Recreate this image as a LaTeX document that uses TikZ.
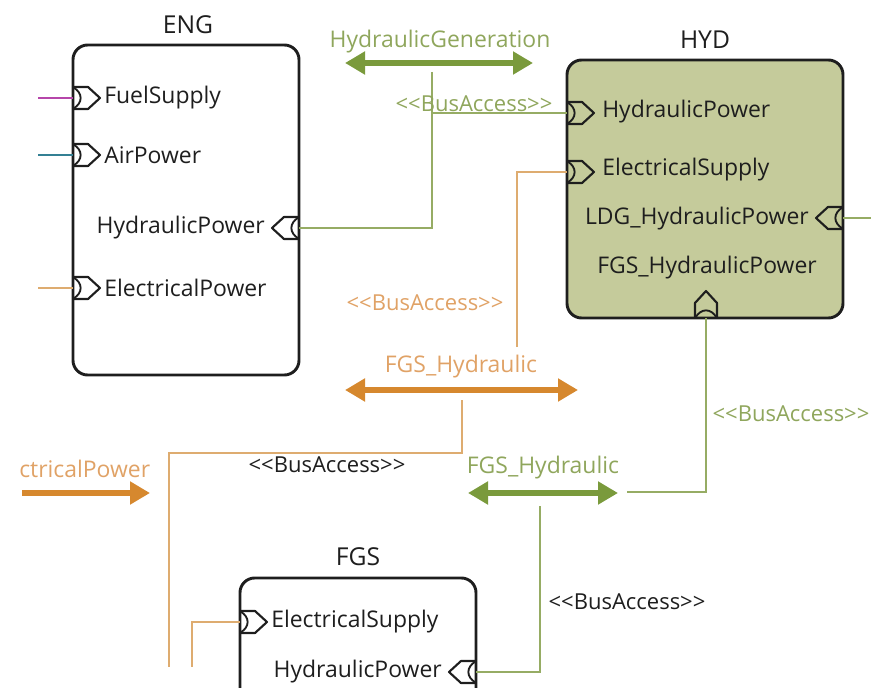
\documentclass[tikz,border=0pt]{standalone}
\usepackage{fontspec}
\setmainfont{Open Sans}
\usetikzlibrary{arrows.meta,fit}

\definecolor{hydfill}{RGB}{197,203,155}
\definecolor{gline}{RGB}{150,172,100}
\definecolor{garrow}{RGB}{122,154,60}
\definecolor{gtext}{RGB}{143,166,92}
\definecolor{oline}{RGB}{222,172,112}
\definecolor{oarrow}{RGB}{214,136,46}
\definecolor{otext}{RGB}{224,162,102}
\definecolor{fuelline}{RGB}{182,70,170}
\definecolor{airline}{RGB}{52,128,148}
\definecolor{ink}{RGB}{30,30,30}

% stereotype text, kerned so the font mapping keeps plain angle brackets
\newcommand{\busacc}{<\kern0pt<BusAccess>\kern0pt>}

\tikzset{
  sysbox/.style={draw=ink, line width=2.2pt, rounded corners=11pt, inner sep=0pt},
  blocktitle/.style={font=\fontsize{18.5}{20}\selectfont, text=ink},
  plabel/.style={text=ink, inner sep=0pt, font=\fontsize{17.2}{19}\selectfont},
  busname/.style={inner sep=0pt, font=\fontsize{17.2}{19}\selectfont},
  conn/.style={line width=1.6pt},
  gconn/.style={conn, draw=gline},
  oconn/.style={conn, draw=oline},
  busarrow/.style={line width=4.6pt,
    {Triangle[length=15pt,width=16.5pt]}-{Triangle[length=15pt,width=16.5pt]}},
  feedarrow/.style={line width=4.6pt, -{Triangle[length=15pt,width=16.5pt]}},
  stereo/.style={inner sep=0pt, font=\fontsize{16.5}{18}\selectfont},
  port/.pic={
    \draw[ink, line width=1.6pt, line join=round]
      (0,-11) -- (15,-11) -- (27,0) -- (15,11) -- (0,11);
    \draw[ink, line width=1.4pt]
      (0.5,-10.5) .. controls (10,-5) and (10,5) .. (0.5,10.5);
  }
}

\begin{document}
\begin{tikzpicture}[x=0.75pt,y=-0.75pt]
\useasboundingbox (0,0) rectangle (871,688);
\clip (0,0) rectangle (871,688);

% ---------- blocks ----------
\node[sysbox, fit={(73,45)(299,375)}] (eng) {};
\node[blocktitle] (engT) at (188,25) {ENG};

\node[sysbox, fill=hydfill, fit={(567,60)(843,318)}] (hyd) {};
\node[blocktitle] (hydT) at (705,40) {HYD};

\node[sysbox, fit={(240,578)(476,740)}] (fgs) {};
\node[blocktitle] (fgsT) at (358,557) {FGS};

% ---------- port positions ----------
\coordinate (engFuel) at (73,98);
\coordinate (engAir)  at (73,155);
\coordinate (engElec) at (73,288);
\coordinate (engHyd)  at (299,228);

\coordinate (hydHyd)  at (567,113);
\coordinate (hydElec) at (567,172);
\coordinate (hydLdg)  at (843,218);
\coordinate (hydFgs)  at (706,318);

\coordinate (fgsElec) at (240,622);
\coordinate (fgsHyd)  at (476,672);

% ---------- port labels ----------
\node[plabel, anchor=west] (lFuel) at (104,98)  {FuelSupply};
\node[plabel, anchor=west] (lAir)  at (104,155) {AirPower};
\node[plabel, anchor=west] (lElec) at (104,288) {ElectricalPower};
\node[plabel, anchor=east] (lHyd)  at (265,228) {HydraulicPower};

\node[plabel, anchor=west] (lhHyd)  at (602,112) {HydraulicPower};
\node[plabel, anchor=west] (lhElec) at (602,170) {ElectricalSupply};
\node[plabel, anchor=east] (lhLdg)  at (809,219) {LDG\_HydraulicPower};
\node[plabel] (lhFgs) at (707,268) {FGS\_HydraulicPower};

\node[plabel, anchor=west] (lfElec) at (271,622) {ElectricalSupply};
\node[plabel, anchor=east] (lfHyd)  at (442,672) {HydraulicPower};

% ---------- buses ----------
\node[busname, text=gtext] (hgName) at (440,42) {HydraulicGeneration};
\coordinate (hgL) at (345,63);
\coordinate (hgR) at (533,63);
\draw[busarrow, draw=garrow, fill=garrow] (hgL) -- (hgR);

\node[busname, text=otext] (fhoName) at (461,367) {FGS\_Hydraulic};
\coordinate (fhoL) at (345,390);
\coordinate (fhoR) at (578,390);
\draw[busarrow, draw=oarrow, fill=oarrow] (fhoL) -- (fhoR);

\node[busname, text=gtext] (fhgName) at (543,468) {FGS\_Hydraulic};
\coordinate (fhgL) at (468,493);
\coordinate (fhgR) at (618,493);
\draw[busarrow, draw=garrow, fill=garrow] (fhgL) -- (fhgR);

\node[busname, text=otext, anchor=west] (epName) at (19,469) {ctricalPower};
\coordinate (epL) at (22,493);
\coordinate (epR) at (150,493);
\draw[feedarrow, draw=oarrow, fill=oarrow] (epL) -- (epR);

% ---------- bus access connectors ----------
\coordinate (fuelSrc) at (38,98);
\coordinate (airSrc)  at (38,155);
\coordinate (elecSrc) at (38,288);
\draw[conn, draw=fuelline] (fuelSrc) -- (engFuel);
\draw[conn, draw=airline]  (airSrc)  -- (engAir);
\draw[oconn] (elecSrc) -- (engElec);

\coordinate (hgTap) at (432,72);
\draw[gconn] (hgTap) |- (engHyd);
\draw[gconn] (hgTap |- hydHyd) -- (hydHyd);
\node[stereo, text=gtext] (baHG) at (474,104) {\busacc};

\coordinate (fhoTopTap) at (517,347);
\draw[oconn] (fhoTopTap) |- (hydElec);
\node[stereo, text=otext] (baHE) at (425,303) {\busacc};

\coordinate (fhoLowTap) at (462,400);
\coordinate (fhoBend)   at (169,453);
\coordinate (fhoEnd)    at (169,667);
\draw[oconn] (fhoLowTap) |- (fhoBend) -- (fhoEnd);
\node[stereo, text=ink] (baFO) at (327,465) {\busacc};

\coordinate (fhgRTap) at (627,492);
\draw[gconn] (fhgRTap) -| (hydFgs);
\node[stereo, text=gtext] (baHF) at (791,414) {\busacc};

\coordinate (fhgLowTap) at (540,506);
\draw[gconn] (fhgLowTap) |- (fgsHyd);
\node[stereo, text=ink] (baFH) at (627,602) {\busacc};

\coordinate (fgsElecEnd) at (192,667);
\draw[oconn] (fgsElec) -| (fgsElecEnd);

\coordinate (ldgEnd) at (871,218);
\draw[gconn] (hydLdg) -- (ldgEnd);

% ---------- port glyphs ----------
\pic at (engFuel) {port};
\pic at (engAir)  {port};
\pic at (engElec) {port};
\pic[rotate=180] at (engHyd) {port};

\pic at (hydHyd)  {port};
\pic at (hydElec) {port};
\pic[rotate=180] at (hydLdg) {port};
\pic[rotate=90] at (hydFgs) {port};

\pic at (fgsElec) {port};
\pic[rotate=180] at (fgsHyd) {port};
\end{tikzpicture}
\end{document}
